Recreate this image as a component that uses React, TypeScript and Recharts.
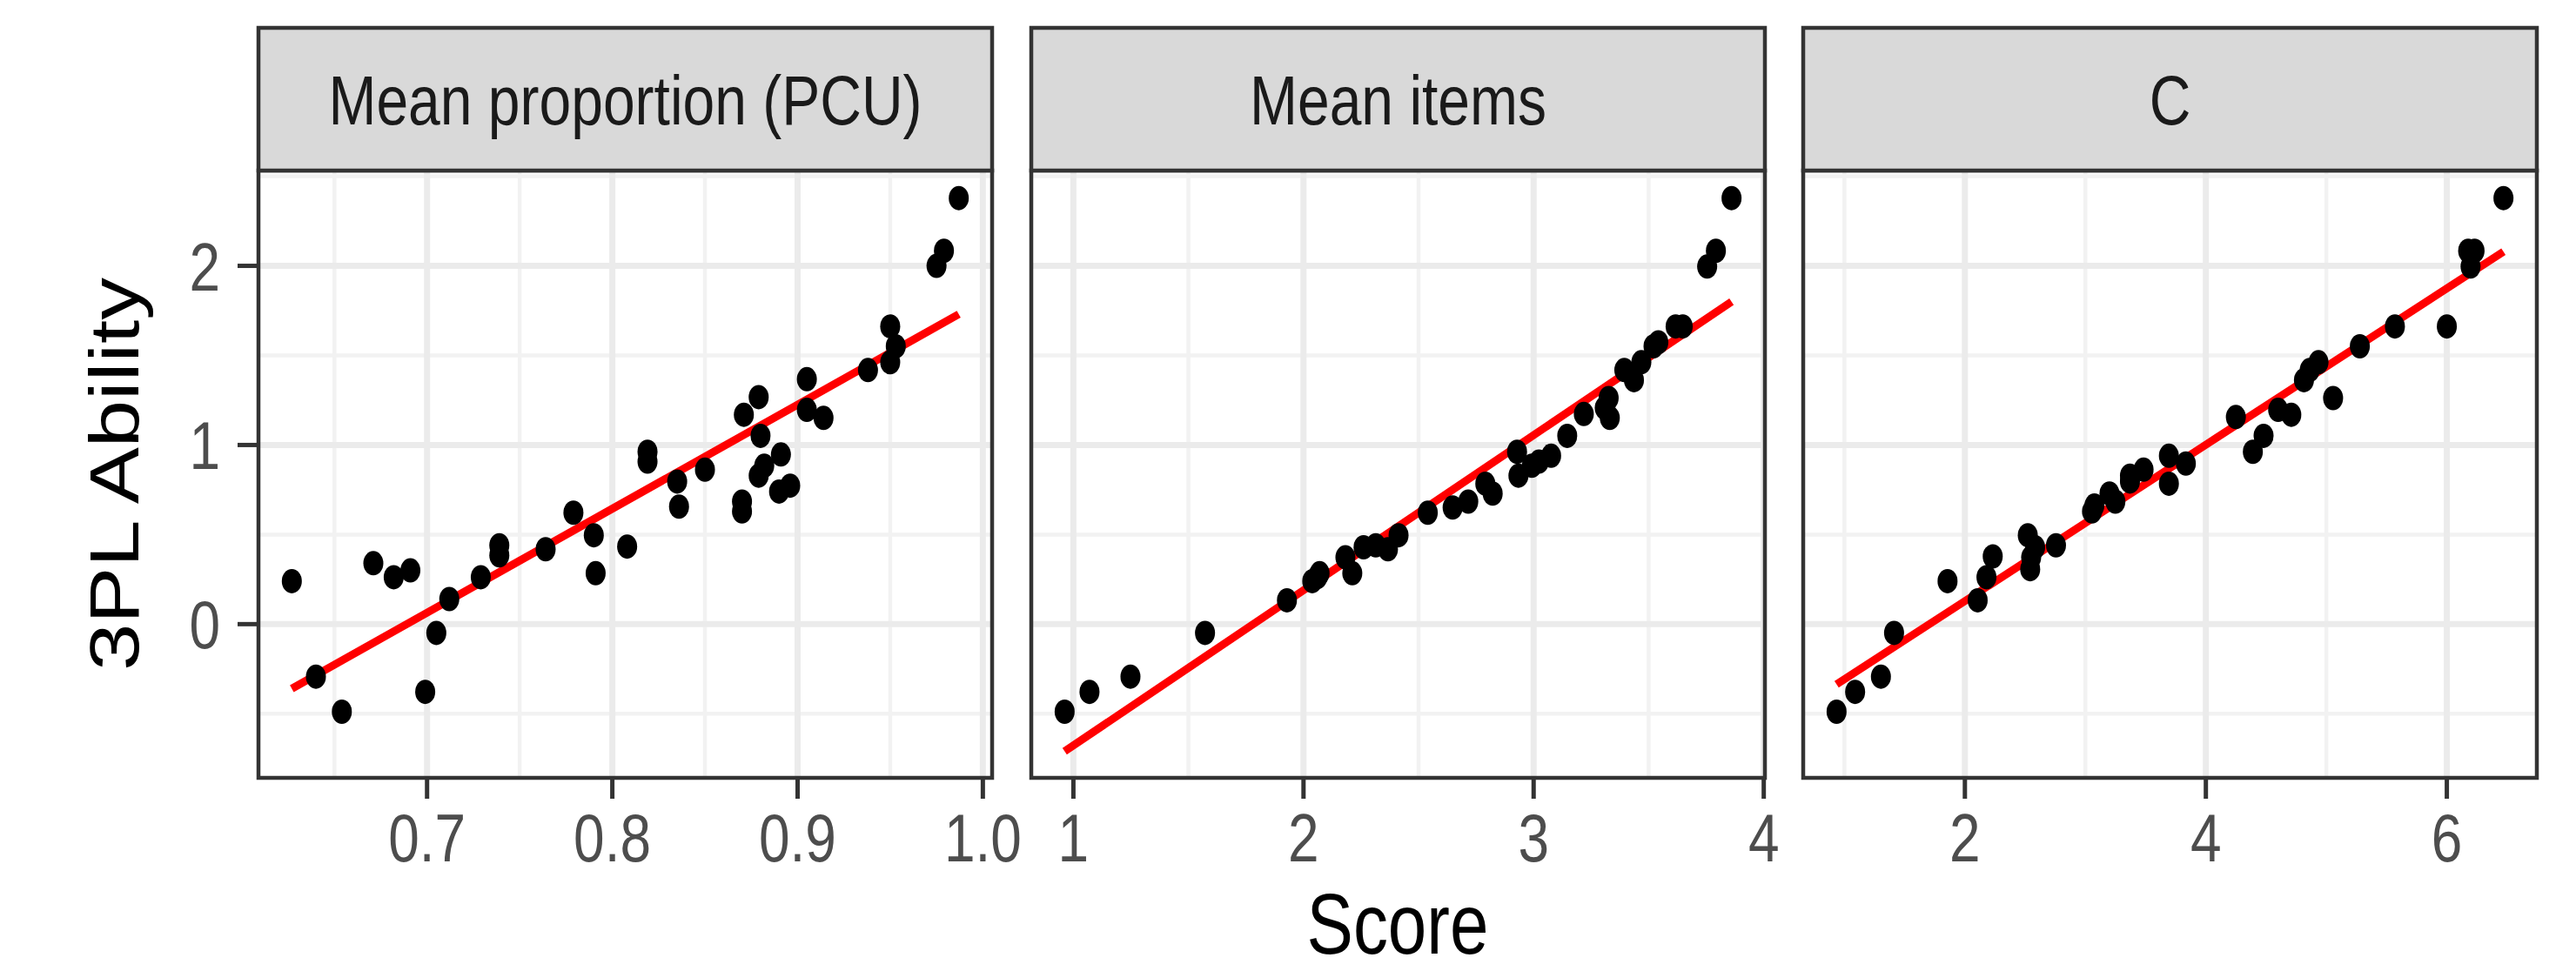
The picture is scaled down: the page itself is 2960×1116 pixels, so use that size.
import { ScatterChart, Scatter, XAxis, YAxis, ReferenceLine } from "recharts";

// y values: 3PL ability, shared scale for all three panels
const abilityTicks = [0, 1, 2];
const abilityMinor = [-0.5, 0.5, 1.5, 2.5];
const abilityDomain = [-0.858, 2.532];

const panelTitles = ["Mean proportion (PCU)", "Mean items", "C"];

// Mean proportion (PCU)
const pcuX = [0.627, 0.64, 0.654, 0.671, 0.682, 0.691, 0.699, 0.705, 0.712, 0.729, 0.739, 0.739, 0.764, 0.779, 0.79, 0.791, 0.808, 0.819, 0.819, 0.835, 0.836, 0.85, 0.87, 0.87, 0.871, 0.879, 0.88, 0.882, 0.879, 0.891, 0.89, 0.896, 0.905, 0.905, 0.914, 0.938, 0.95, 0.953, 0.95, 0.975, 0.979, 0.987];
const pcuY = [0.24, -0.293, -0.489, 0.34, 0.262, 0.3, -0.378, -0.049, 0.14, 0.262, 0.44, 0.384, 0.418, 0.622, 0.496, 0.284, 0.433, 0.962, 0.907, 0.796, 0.656, 0.862, 0.684, 0.629, 1.169, 1.267, 1.051, 0.884, 0.829, 0.947, 0.74, 0.773, 1.367, 1.196, 1.151, 1.418, 1.662, 1.551, 1.462, 2.0, 2.084, 2.378];
const pcuTicks = [0.7, 0.8, 0.9, 1.0];
const pcuMinor = [0.65, 0.75, 0.85, 0.95];
const pcuDomain = [0.609, 1.005];
const pcuFitX = [0.627, 0.987];
const pcuFitY = [-0.36, 1.73];

// Mean items
const itemsX = [0.962, 1.07, 1.248, 1.572, 1.928, 2.038, 2.07, 2.06, 2.182, 2.212, 2.261, 2.314, 2.367, 2.413, 2.54, 2.648, 2.716, 2.79, 2.822, 2.928, 2.934, 2.992, 3.023, 3.076, 3.146, 3.218, 3.326, 3.331, 3.309, 3.394, 3.436, 3.468, 3.521, 3.542, 3.617, 3.648, 3.754, 3.792, 3.86];
const itemsY = [-0.489, -0.378, -0.293, -0.049, 0.133, 0.24, 0.284, 0.262, 0.373, 0.284, 0.429, 0.44, 0.418, 0.496, 0.622, 0.651, 0.684, 0.784, 0.729, 0.962, 0.829, 0.884, 0.907, 0.94, 1.051, 1.173, 1.262, 1.151, 1.207, 1.418, 1.362, 1.462, 1.551, 1.573, 1.662, 1.662, 1.996, 2.084, 2.378];
const itemsTicks = [1, 2, 3, 4];
const itemsMinor = [1.5, 2.5, 3.5];
const itemsDomain = [0.817, 4.005];
const itemsFitX = [0.962, 3.86];
const itemsFitY = [-0.71, 1.8];

// C
const cX = [0.935, 1.089, 1.303, 1.412, 1.856, 2.106, 2.179, 2.231, 2.522, 2.542, 2.55, 2.583, 2.756, 3.055, 3.075, 3.2, 3.249, 3.37, 3.37, 3.483, 3.693, 3.693, 3.834, 4.249, 4.39, 4.479, 4.6, 4.709, 4.814, 4.862, 4.935, 5.056, 5.278, 5.569, 6.0, 6.177, 6.23, 6.197, 6.47];
const cY = [-0.489, -0.378, -0.293, -0.049, 0.24, 0.133, 0.262, 0.378, 0.496, 0.307, 0.373, 0.429, 0.44, 0.629, 0.662, 0.729, 0.684, 0.796, 0.829, 0.862, 0.94, 0.784, 0.896, 1.156, 0.962, 1.051, 1.196, 1.169, 1.362, 1.418, 1.462, 1.262, 1.551, 1.662, 1.662, 2.084, 2.084, 1.996, 2.378];
const cTicks = [2, 4, 6];
const cMinor = [1, 3, 5];
const cDomain = [0.658, 6.747];
const cFitX = [0.935, 6.47];
const cFitY = [-0.336, 2.079];

const FONT = "'Liberation Sans', Arial, Helvetica, sans-serif";
const SY = 1.22; // the figure is stretched vertically
const PLOT_TOP = 196;
const PLOT_H = 698;
const PLOT_W = 843;
const STRIP_TOP = 32;
const plotLefts = [297, 1185, 2072];
const BORDER = "#333333";

const zip = (xs: number[], ys: number[]) => xs.map((x, i) => ({ x, y: ys[i] }));

const panels = [
  { title: panelTitles[0], data: zip(pcuX, pcuY), ticks: pcuTicks, minor: pcuMinor, domain: pcuDomain, fitX: pcuFitX, fitY: pcuFitY, fmt: (v: number) => v.toFixed(1) },
  { title: panelTitles[1], data: zip(itemsX, itemsY), ticks: itemsTicks, minor: itemsMinor, domain: itemsDomain, fitX: itemsFitX, fitY: itemsFitY, fmt: (v: number) => String(v) },
  { title: panelTitles[2], data: zip(cX, cY), ticks: cTicks, minor: cMinor, domain: cDomain, fitX: cFitX, fitY: cFitY, fmt: (v: number) => String(v) },
];

const XTick = ({ x, y, payload, fmt }: any) => (
  <g transform={`translate(${x},${y + 72}) scale(1,${SY})`}>
    <text textAnchor="middle" fontSize={64} fill="#4D4D4D" fontFamily={FONT}>
      {fmt(payload.value)}
    </text>
  </g>
);

const YTick = ({ x, y, payload }: any) => (
  <g transform={`translate(${x - 20},${y + 28}) scale(1,${SY})`}>
    <text textAnchor="end" fontSize={64} fill="#4D4D4D" fontFamily={FONT}>
      {payload.value}
    </text>
  </g>
);

const Dot = (props: any) => <ellipse cx={props.cx} cy={props.cy} rx={11.5} ry={14} fill="#000000" />;

const Panel = ({ p, index }: { p: (typeof panels)[number]; index: number }) => {
  const first = index === 0;
  const yAxisW = first ? 147 : 0;
  const ml = first ? 0 : 40;
  const left = plotLefts[index] - yAxisW - ml;
  const width = ml + yAxisW + PLOT_W + 40;
  const height = PLOT_TOP + PLOT_H + 130;
  return (
    <div style={{ position: "absolute", left, top: 0 }}>
      <ScatterChart width={width} height={height} margin={{ top: PLOT_TOP, right: 40, bottom: 0, left: ml }}>
        <XAxis
          type="number"
          dataKey="x"
          domain={p.domain}
          allowDataOverflow
          ticks={p.ticks}
          interval={0}
          height={130}
          tickSize={24}
          tickMargin={0}
          axisLine={false}
          tickLine={{ stroke: BORDER, strokeWidth: 5 }}
          tick={(t: any) => <XTick {...t} fmt={p.fmt} />}
        />
        <YAxis
          type="number"
          dataKey="y"
          domain={abilityDomain}
          allowDataOverflow
          ticks={abilityTicks}
          interval={0}
          width={yAxisW}
          hide={!first}
          tickSize={24}
          tickMargin={0}
          axisLine={false}
          tickLine={{ stroke: BORDER, strokeWidth: 5 }}
          tick={(t: any) => <YTick {...t} />}
        />
        {p.minor.map((v) => (
          <ReferenceLine key={"mx" + v} x={v} stroke="#F2F2F2" strokeWidth={4.5} zIndex={-100} />
        ))}
        {abilityMinor.map((v) => (
          <ReferenceLine key={"my" + v} y={v} stroke="#F2F2F2" strokeWidth={4.5} zIndex={-100} />
        ))}
        {p.ticks.map((v) => (
          <ReferenceLine key={"x" + v} x={v} stroke="#EBEBEB" strokeWidth={7} zIndex={-90} />
        ))}
        {abilityTicks.map((v) => (
          <ReferenceLine key={"y" + v} y={v} stroke="#EBEBEB" strokeWidth={7} zIndex={-90} />
        ))}
        <ReferenceLine
          segment={[
            { x: p.fitX[0], y: p.fitY[0] },
            { x: p.fitX[1], y: p.fitY[1] },
          ]}
          stroke="#FF0000"
          strokeWidth={9}
          zIndex={550}
        />
        <Scatter data={p.data} shape={<Dot />} isAnimationActive={false} zIndex={600} />
      </ScatterChart>
    </div>
  );
};

const Overlay = () => (
  <svg width={2960} height={1116} style={{ position: "absolute", left: 0, top: 0, pointerEvents: "none" }}>
    {panels.map((p, i) => (
      <g key={p.title}>
        <rect x={plotLefts[i]} y={PLOT_TOP} width={PLOT_W} height={PLOT_H} fill="none" stroke={BORDER} strokeWidth={4.5} />
        <rect x={plotLefts[i]} y={STRIP_TOP} width={PLOT_W} height={PLOT_TOP - STRIP_TOP} fill="#D9D9D9" stroke={BORDER} strokeWidth={4.5} />
        <g transform={`translate(${plotLefts[i] + PLOT_W / 2},143) scale(1,${SY})`}>
          <text textAnchor="middle" fontSize={66} fill="#1A1A1A" fontFamily={FONT}>
            {p.title}
          </text>
        </g>
      </g>
    ))}
    <g transform={`translate(1606,1096) scale(1,${SY})`}>
      <text textAnchor="middle" fontSize={80} fill="#000000" fontFamily={FONT}>
        Score
      </text>
    </g>
    <g transform={`translate(159,545) scale(1,${SY}) rotate(-90)`}>
      <text textAnchor="middle" fontSize={80} fill="#000000" fontFamily={FONT}>
        3PL Ability
      </text>
    </g>
  </svg>
);

export default function App() {
  return (
    <div style={{ position: "absolute", left: 0, top: 0, width: 2960, height: 1116, background: "#FFFFFF", overflow: "hidden" }}>
      {panels.map((p, i) => (
        <Panel key={p.title} p={p} index={i} />
      ))}
      <Overlay />
    </div>
  );
}
